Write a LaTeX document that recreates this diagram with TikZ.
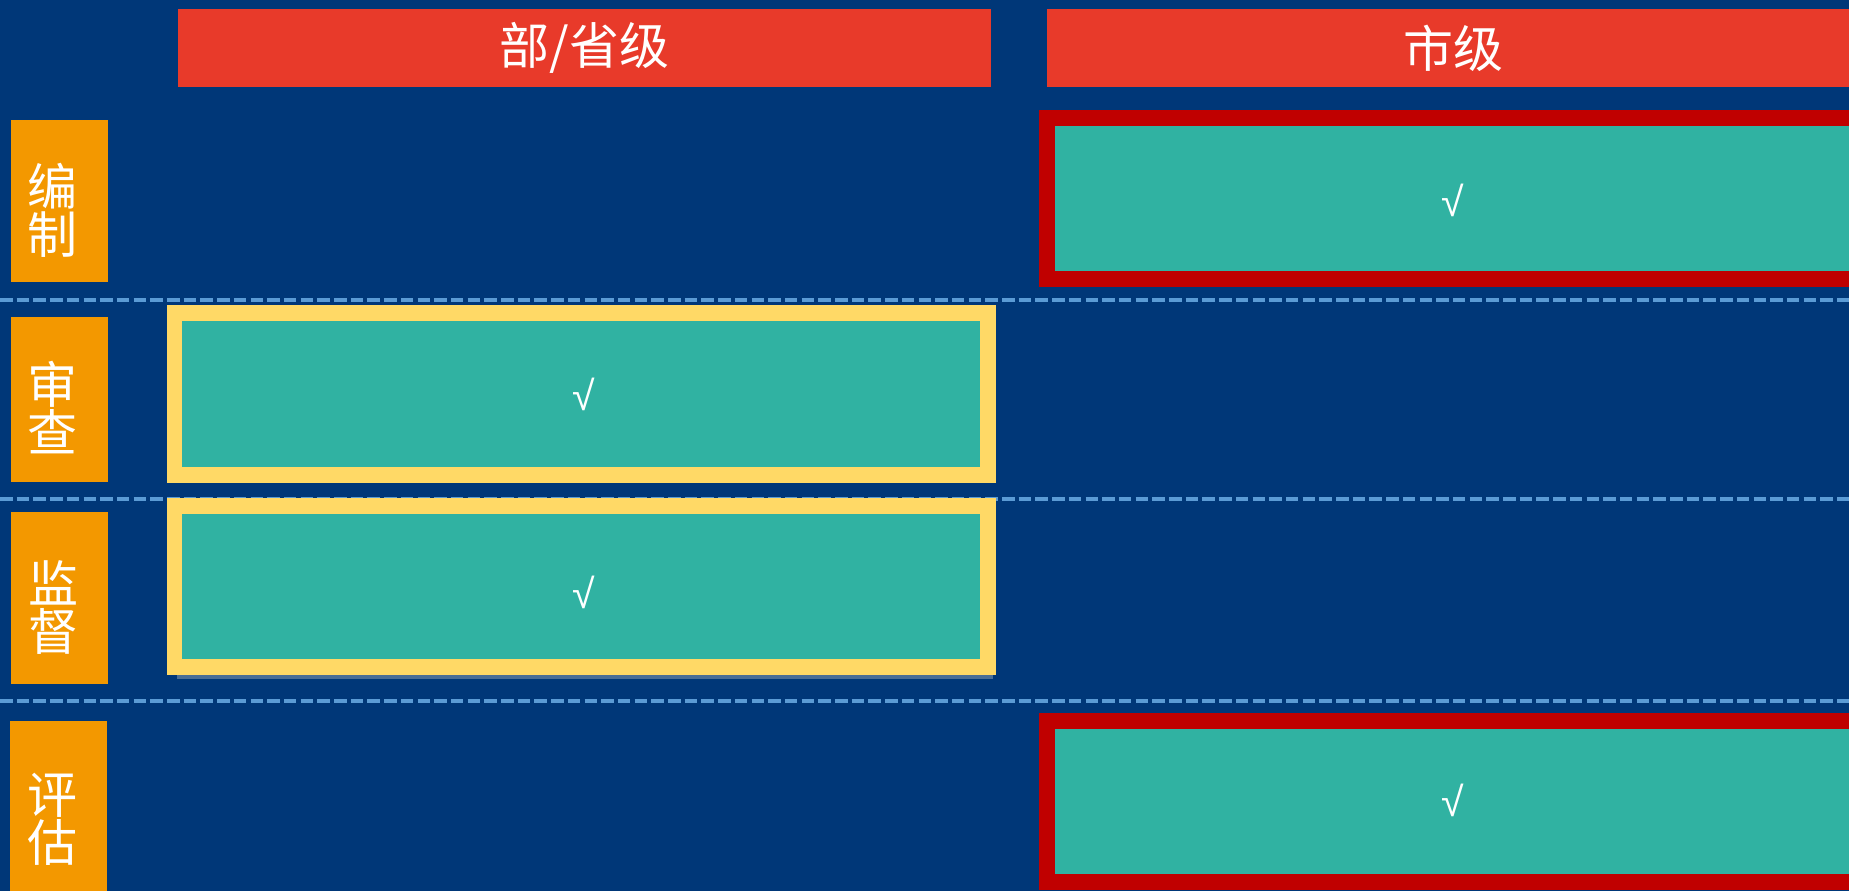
\documentclass[tikz,border=0pt]{standalone}
\usepackage{fontspec}
\newfontfamily\cjk{Noto Sans CJK SC}
\newfontfamily\lib{Liberation Sans}
\definecolor{navy}{HTML}{003778}
\definecolor{hdrred}{HTML}{E83A2A}
\definecolor{labor}{HTML}{F39800}
\definecolor{teal}{HTML}{30B2A2}
\definecolor{dred}{HTML}{C00000}
\definecolor{ylw}{HTML}{FFD966}
\definecolor{sepblue}{HTML}{5B9BD5}
\definecolor{shadowc}{HTML}{4A6E96}
\tikzset{
  header/.style={fill=hdrred, inner sep=0pt, text=white, font=\cjk\fontsize{50}{50}\selectfont, minimum width=813pt, minimum height=78pt},
  labbox/.style={fill=labor, inner sep=0pt, minimum width=97pt},
  labtext/.style={text=white, inner sep=0pt, align=center, font=\cjk\fontsize{50}{48}\selectfont},
  redbox/.style={draw=dred, line width=16pt, fill=teal, inner sep=0pt},
  ylwbox/.style={draw=ylw, line width=15.5pt, fill=teal, inner sep=0pt},
  checkmark/.style={text=white, inner sep=0pt, font=\lib\fontsize{41}{41}\selectfont},
  sepline/.style={draw=sepblue, line width=4pt, dash pattern=on 12.5pt off 4.2pt},
}
\begin{document}
\begin{tikzpicture}[x=1pt,y=-1pt]
\useasboundingbox (0,0) rectangle (1849,891);
\fill[navy] (0,0) rectangle (1849,891);
\clip (0,0) rectangle (1849,891);
% separators
\coordinate (s1a) at (0,300);   \coordinate (s1b) at (1849,300);
\coordinate (s2a) at (0,499);   \coordinate (s2b) at (1849,499);
\coordinate (s3a) at (0,701);   \coordinate (s3b) at (1849,701);
\draw[sepline] (s1a) -- (s1b);
\draw[sepline] (s2a) -- (s2b);
\draw[sepline] (s3a) -- (s3b);
% headers
\node[header] (h1) at (584.5,48) {\raisebox{-2pt}{部/省级}};
\node[header] (h2) at (1453.5,48) {\raisebox{-2pt}{市级}};
% row labels
\node[labbox, minimum height=162pt] (l1) at (59.5,201) {};
\node[labbox, minimum height=165pt] (l2) at (59.5,399.5) {};
\node[labbox, minimum height=172pt] (l3) at (59,598) {};
\node[labbox, minimum height=174pt] (l4) at (58.5,808) {};
\node[labtext] (t1) at (52.5,210) {编\\制};
\node[labtext] (t2) at (52.5,408) {审\\查};
\node[labtext] (t3) at (53.5,608) {监\\督};
\node[labtext] (t4) at (52.5,819) {评\\估};
% shadow under row 3 box
\fill[shadowc] (177,674) rectangle (993,679);
% boxes
\node[redbox, minimum width=810pt, minimum height=161.5pt] (b1) at (1452,198.25) {};
\node[ylwbox, minimum width=813.5pt, minimum height=162pt] (b2) at (581.25,394) {};
\node[ylwbox, minimum width=813.5pt, minimum height=161pt] (b3) at (581.25,586.5) {};
\node[redbox, minimum width=810pt, minimum height=161pt] (b4) at (1452,801.5) {};
% check marks
\node[checkmark] (c1) at (1453,200) {√};
\node[checkmark] (c2) at (584,394) {√};
\node[checkmark] (c3) at (584,592) {√};
\node[checkmark] (c4) at (1453,800) {√};
\end{tikzpicture}
\end{document}
